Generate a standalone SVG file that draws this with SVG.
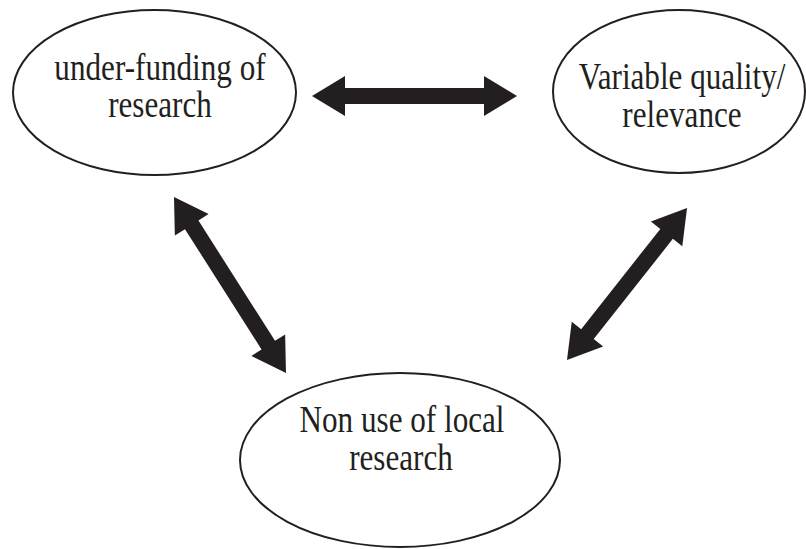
<svg xmlns="http://www.w3.org/2000/svg" width="806" height="549" viewBox="0 0 806 549">
<style>
.node ellipse{fill:#fff;stroke:#231f20;stroke-width:2}
.node text{font-family:"Liberation Serif","Times New Roman",serif;font-size:38px;fill:#231f20;text-anchor:middle}
.arrow{fill:#231f20}
</style>
<rect width="806" height="549" fill="#fff"/>
<g id="connectors">
<path class="arrow" transform="translate(312,96)" d="M0,0 L33,-20 L33,-8 L172,-8 L172,-20 L205,0 L172,20 L172,8 L33,8 L33,20 Z"/>
<path class="arrow" transform="translate(174,197) rotate(57.53)" d="M0,0 L33,-20 L33,-8 L175.6,-8 L175.6,-20 L208.6,0 L175.6,20 L175.6,8 L33,8 L33,20 Z"/>
<path class="arrow" transform="translate(567,360) rotate(-51.7)" d="M0,0 L33,-20 L33,-8 L160.7,-8 L160.7,-20 L193.7,0 L160.7,20 L160.7,8 L33,8 L33,20 Z"/>
</g>
<g id="node-underfunding" class="node">
<ellipse cx="154.5" cy="92.5" rx="141.5" ry="82.5"/>
<text transform="translate(160,80) scale(0.82,1)">under-funding of</text>
<text transform="translate(160,117) scale(0.82,1)">research</text>
</g>
<g id="node-variable" class="node">
<ellipse cx="679" cy="91.5" rx="126" ry="81.5"/>
<text transform="translate(682,89) scale(0.82,1)">Variable quality/</text>
<text transform="translate(682,127) scale(0.82,1)">relevance</text>
</g>
<g id="node-nonuse" class="node">
<ellipse cx="400" cy="460" rx="160" ry="87"/>
<text transform="translate(402,432) scale(0.82,1)">Non use of local</text>
<text transform="translate(401,470) scale(0.82,1)">research</text>
</g>
</svg>
